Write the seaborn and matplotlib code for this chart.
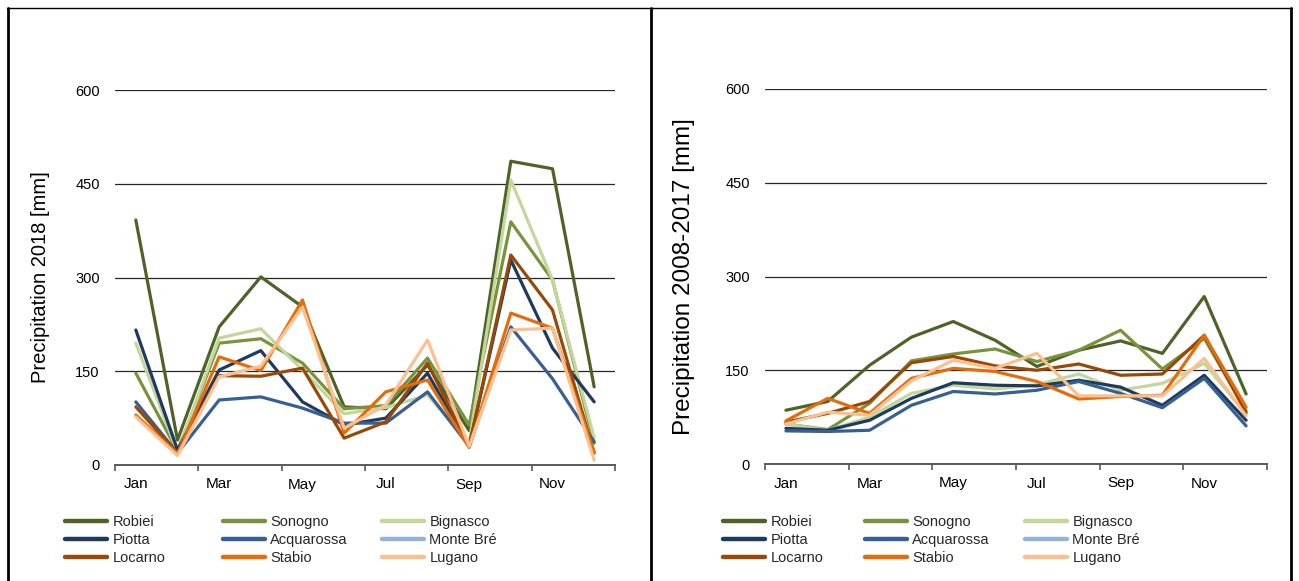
import numpy as np
import pandas as pd
import matplotlib
matplotlib.use("Agg")
import matplotlib.pyplot as plt
from matplotlib.lines import Line2D
import seaborn as sns

months = ["Jan", "Feb", "Mar", "Apr", "May", "Jun",
          "Jul", "Aug", "Sep", "Oct", "Nov", "Dec"]
stations = ["Robiei", "Sonogno", "Bignasco", "Piotta", "Acquarossa",
            "Monte Bré", "Locarno", "Stabio", "Lugano"]
nan = np.nan

# Monthly precipitation 2018 [mm]
robiei_2018 = [392, 40, 221, 301, 253, 93, 90, 160, 55, 486, 474, 125]
sonogno_2018 = [147, 22, 195, 202, 163, 90, 95, 171, 64, 389, 296, 35]
bignasco_2018 = [195, 20, 203, 218, 152, 82, 92, 112, 35, 456, 296, 43]
piotta_2018 = [216, 24, 152, 183, 101, 64, 75, 147, 30, 328, 187, 101]
acquarossa_2018 = [101, 19, 104, 109, 91, 67, 67, 117, 30, 221, 138, 37]
montebre_2018 = [nan] * 12
locarno_2018 = [93, 19, 143, 142, 155, 43, 69, 163, 30, 336, 248, 19]
stabio_2018 = [80, 18, 173, 151, 264, 51, 117, 136, 28, 243, 219, 20]
lugano_2018 = [77, 15, 141, 158, 253, 59, 96, 200, 30, 216, 219, 8]

# Mean monthly precipitation 2008-2017 [mm]
robiei_ref = [86, 100, 158, 203, 228, 198, 156, 182, 197, 177, 268, 112]
sonogno_ref = [64, 55, 97, 165, 176, 184, 164, 182, 214, 152, 201, 85]
bignasco_ref = [64, 54, 75, 113, 126, 120, 127, 144, 118, 129, 161, 80]
piotta_ref = [57, 54, 70, 105, 130, 126, 125, 134, 123, 94, 142, 70]
acquarossa_ref = [53, 52, 54, 94, 116, 112, 118, 132, 113, 90, 137, 61]
montebre_ref = [nan] * 12
locarno_ref = [67, 81, 100, 162, 172, 157, 150, 160, 142, 144, 206, 82]
stabio_ref = [69, 105, 81, 137, 153, 148, 132, 104, 108, 110, 206, 91]
lugano_ref = [64, 83, 78, 133, 166, 153, 177, 109, 109, 109, 169, 77]

series_2018 = [robiei_2018, sonogno_2018, bignasco_2018, piotta_2018,
               acquarossa_2018, montebre_2018, locarno_2018, stabio_2018,
               lugano_2018]
series_ref = [robiei_ref, sonogno_ref, bignasco_ref, piotta_ref,
              acquarossa_ref, montebre_ref, locarno_ref, stabio_ref,
              lugano_ref]

colors = {
    "Robiei": "#4F6228", "Sonogno": "#77933C", "Bignasco": "#C3D69B",
    "Piotta": "#1F3A5F", "Acquarossa": "#376092", "Monte Bré": "#95B3D7",
    "Locarno": "#984807", "Stabio": "#E46C0A", "Lugano": "#FAC090",
}


def long_form(series):
    rows = []
    for name, vals in zip(stations, series):
        for i, v in enumerate(vals):
            rows.append({"station": name, "month": i, "value": v})
    return pd.DataFrame(rows)


sns.set_theme(style="white")
plt.rcParams["font.family"] = ["Liberation Sans", "DejaVu Sans"]

fig = plt.figure(figsize=(12.99, 5.81), dpi=100)
W, H = 1299, 581


def px_rect(x0, x1, ytop, ybot):
    return [x0 / W, 1 - ybot / H, (x1 - x0) / W, (ybot - ytop) / H]


ax1 = fig.add_axes(px_rect(115, 615, 90, 465))
ax2 = fig.add_axes(px_rect(765, 1267, 89, 464))

panels = [(ax1, series_2018, "Precipitation 2018 [mm]", 14.5),
          (ax2, series_ref, "Precipitation 2008-2017 [mm]", 17.5)]
for ax, series, ylabel, label_size in panels:
    df = long_form(series).dropna()
    sns.lineplot(data=df, x="month", y="value", hue="station",
                 hue_order=[s for s in stations if s in set(df["station"])],
                 palette=colors, linewidth=2.3, legend=False, ax=ax,
                 zorder=3)
    ax.set_xlim(-0.5, 11.5)
    ax.set_ylim(0, 600)
    ax.set_yticks([0, 150, 300, 450, 600])
    ax.yaxis.grid(True, color="#262626", linewidth=0.9)
    ax.set_axisbelow(True)
    for s in ["top", "right", "left"]:
        ax.spines[s].set_visible(False)
    ax.spines["bottom"].set_color("#595959")
    ax.spines["bottom"].set_linewidth(1.4)
    ax.spines["bottom"].set_zorder(2)
    ax.set_xticks(np.arange(-0.5, 12, 2))
    ax.set_xticklabels([])
    ax.set_xticks(np.arange(0, 12, 2), minor=True)
    ax.set_xticklabels(months[::2], minor=True)
    ax.tick_params(axis="x", which="major", direction="out", length=4,
                   width=1.2, color="#595959", bottom=True)
    ax.tick_params(axis="x", which="minor", length=0, pad=9,
                   labelsize=11, colors="black")
    ax.tick_params(axis="y", length=0, pad=11, labelsize=10.5,
                   colors="black")
    ax.set_xlabel("")
    ax.set_ylabel(ylabel, fontsize=label_size, color="black")

ax1.yaxis.set_label_coords(-0.13, 0.5)
ax2.yaxis.set_label_coords(-0.139, 0.5)

# Legends: three columns of three entries below each panel
columns = [["Robiei", "Piotta", "Locarno"],
           ["Sonogno", "Acquarossa", "Stabio"],
           ["Bignasco", "Monte Bré", "Lugano"]]
for col_x in ([65, 223, 382], [723, 865, 1025]):
    for x, names in zip(col_x, columns):
        handles = [Line2D([], [], color=colors[n], linewidth=3.2)
                   for n in names]
        fig.legend(handles, names, loc="upper left",
                   bbox_to_anchor=(x / W, 1 - 515 / H),
                   bbox_transform=fig.transFigure, frameon=False,
                   fontsize=10.5, handlelength=2.9, handletextpad=0.35,
                   labelspacing=0.29, borderpad=0, borderaxespad=0)

# Frame around the two panels
frame = [((7, 1292), (8, 8), 1.0),
         ((8, 8), (8, 581), 2.0),
         ((651, 651), (8, 581), 2.0),
         ((1291, 1291), (8, 581), 2.0)]
for xs, ys, lw in frame:
    fig.add_artist(Line2D([x / W for x in xs], [1 - y / H for y in ys],
                          color="black", linewidth=lw,
                          transform=fig.transFigure))

fig.savefig("out.png", dpi=100, facecolor="white")
